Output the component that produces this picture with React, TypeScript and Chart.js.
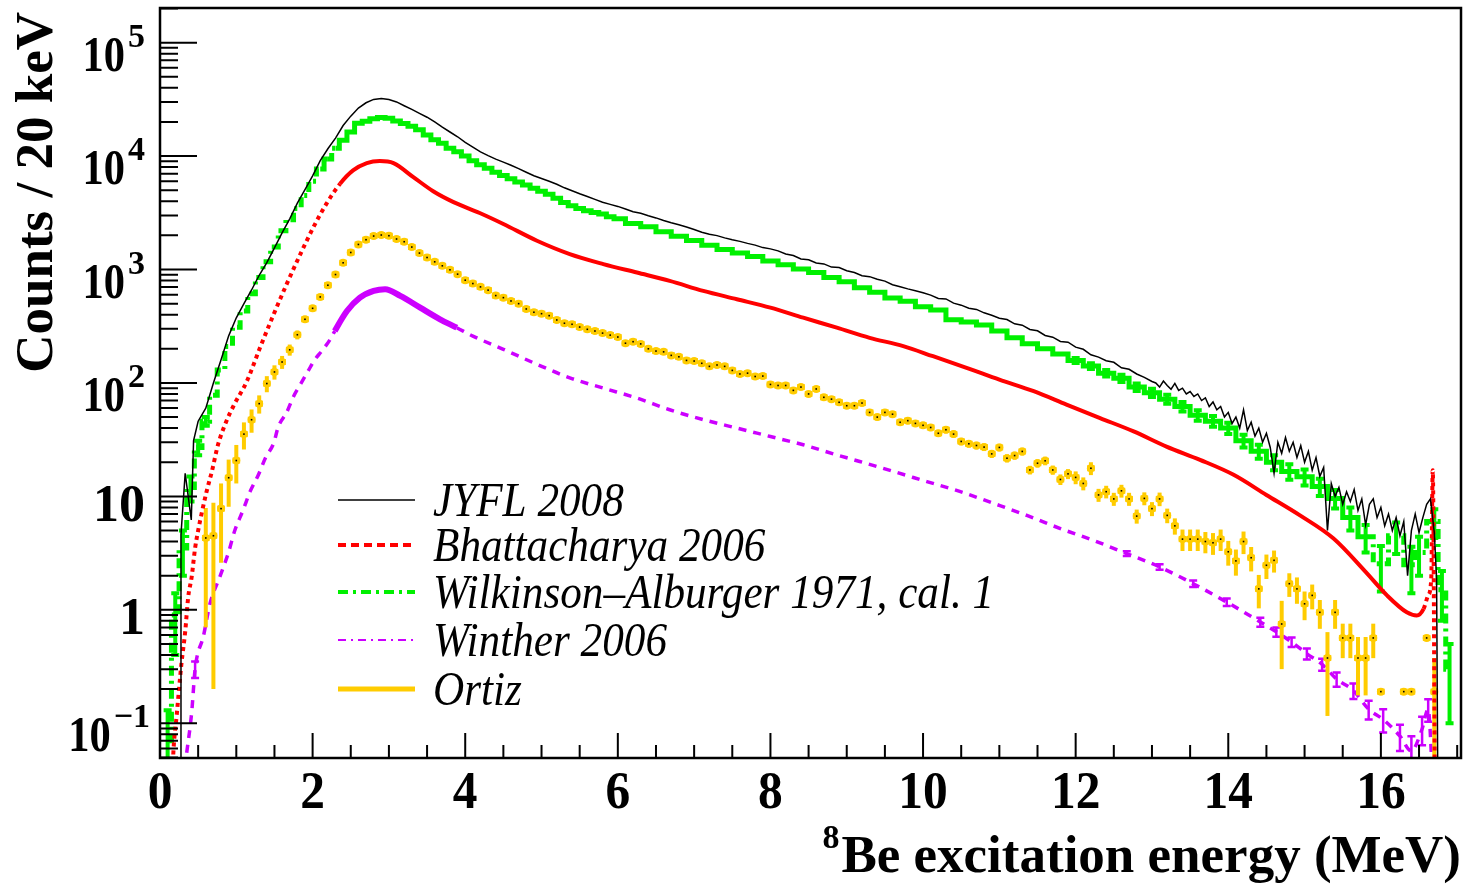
import React, { useEffect, useRef } from "react";
import { Chart, registerables } from "chart.js";

Chart.register(...registerables);

const SERIF = '"Liberation Serif", "Times New Roman", Times, serif';

// ---------------- axes ----------------
const X_RANGE = [0, 17.05];
const Y_RANGE = [0.0494, 2.02e5];
const X_TICK_LABELS = [0, 2, 4, 6, 8, 10, 12, 14, 16];
const Y_DECADES = [-1, 0, 1, 2, 3, 4, 5];
const Y_TITLE = "Counts / 20 keV";
const X_TITLE = "Be excitation energy (MeV)";
const X_TITLE_SUP = "8";

// ---------------- series labels ----------------
const LABELS = [
  "JYFL 2008",
  "Bhattacharya 2006",
  "Wilkinson\u2013Alburger 1971, cal. 1",
  "Winther 2006",
  "Ortiz",
];

const bins = (start: number, end: number, step: number) => {
  const out: number[] = [];
  const n = Math.round((end - start) / step);
  for (let i = 0; i <= n; i++) out.push(Math.round((start + i * step) * 1000) / 1000);
  return out;
};

// ---------------- JYFL 2008 ----------------
const JYFL_LOW_E = [0.265, 0.275, 0.33, 0.41, 0.44, 0.5];
const JYFL_LOW = [0.01, 4.6, 16, 6.2, 31, 46];
const JYFL_MID_E = bins(0.6, 13.0, 0.1);
const JYFL_MID = [
  60, 100, 160, 260, 375, 500, 660, 890, 1150, 1550,
  2100, 2800, 3850, 5050, 6700, 9100, 11600, 14400, 18600, 22500,
  26500, 29500, 31600, 32200, 31500, 30000, 27800, 25800, 23800, 22000,
  20000, 18000, 16300, 14800, 13200, 12000, 10900, 10100, 9400, 8850,
  8300, 7750, 7200, 6700, 6350, 6000, 5650, 5250, 4950, 4650,
  4400, 4150, 3920, 3750, 3600, 3420, 3230, 3130, 2980, 2850,
  2700, 2580, 2480, 2370, 2250, 2130, 2050, 1990, 1900, 1830,
  1770, 1700, 1640, 1560, 1520, 1460, 1370, 1330, 1240, 1220,
  1140, 1120, 1050, 1040, 975, 940, 880, 865, 820, 790,
  735, 705, 675, 650, 625, 595, 555, 550, 505, 485,
  455, 445, 415, 395, 372, 362, 332, 323, 296, 288,
  262, 253, 232, 229, 207, 198, 177, 169, 157, 152,
  136, 132, 120, 112, 103,
];
const JYFL_HIGH_E = bins(13.05, 16.7, 0.05);
const JYFL_HIGH = [
  100, 92, 104, 95, 88, 99, 86, 90, 80, 84,
  76, 80, 70, 74, 62, 68, 58, 62, 50, 55,
  44, 50, 40, 58, 38, 45, 34, 40, 30, 36,
  27, 16, 30, 24, 33, 25, 30, 22, 28, 20,
  25, 17, 22, 15, 18, 5, 13, 10, 12, 8.5,
  11, 9, 11.5, 7.5, 9.5, 5.6, 8.5, 9.5, 6.5, 8,
  5.5, 7, 5, 6.5, 4.5, 6, 2.0, 5, 7, 4.8,
  6.5, 8.5, 9.5, 4.8,
];
const JYFL_TAIL_E = [16.73, 16.75];
const JYFL_TAIL = [1.9, 0.01];

// ---------------- Bhattacharya 2006 ----------------
const BHAT_E = [
  0.15, 0.175, 0.22, 0.28, 0.33, 0.37, 0.415, 0.46, 0.5, 0.55,
  0.61, 0.68, 0.76, 0.87, 0.97, 1.14, 1.31, 1.49, 1.66, 1.84,
  2.01, 2.18, 2.36, 2.53, 2.71, 2.88, 3.06, 3.32, 3.58, 3.84,
  4.19, 4.5, 4.94, 5.37, 5.81, 6.25, 6.68, 7.12, 7.56, 8.0,
  8.43, 8.87, 9.3, 9.74, 10.13, 10.57, 11.0, 11.45, 11.88, 12.32,
  12.76, 13.19, 13.63, 14.07, 14.5, 14.94, 15.38, 15.8, 16.08, 16.34,
  16.47, 16.56, 16.62, 16.66, 16.68, 16.71,
];
const BHAT = [
  0.02, 0.055, 0.12, 0.33, 0.64, 1.3, 1.95, 3.5, 5.0, 7.3,
  11, 16.6, 28.5, 46, 64, 104, 204, 403, 743, 1368,
  2355, 3790, 5700, 7470, 8670, 9040, 8670, 6520, 4900, 3950,
  3150, 2520, 1794, 1368, 1117, 940, 794, 648, 547, 461,
  376, 307, 250, 211, 172, 136, 107, 84.5, 64.4, 49,
  37.4, 27.5, 21, 15.5, 10.3, 6.8, 4.25, 2.16, 1.34, 0.95,
  0.89, 1.02, 1.34, 1.88, 17, 0.01,
];

// ---------------- Wilkinson-Alburger 1971 ----------------
const WILK_LOW_E = bins(0.1, 6.0, 0.1);
const WILK_LOW = [
  0.07, 0.9, 3.5, 12, 27, 46, 78, 130, 210, 310,
  430, 610, 850, 1170, 1580, 2200, 2750, 3450, 4500, 6000,
  7700, 9400, 11700, 13800, 16300, 19500, 20300, 21300, 21900, 21500,
  20400, 19400, 18300, 17100, 15300, 13900, 13000, 11700, 10900, 10000,
  9100, 8400, 7800, 7200, 6750, 6300, 5900, 5550, 5200, 4900,
  4600, 4250, 3900, 3650, 3450, 3300, 3180, 3090, 2920, 2800,
];
const WILK_LOW_ERR = [
  0.06, 0.5, 1.5, 3, 4, 4, 0, 0, 0, 0,
  0, 0, 0, 0, 0, 0, 0, 0, 0, 0,
  0, 0, 0, 0, 0, 0, 0, 0, 0, 0,
  0, 0, 0, 0, 0, 0, 0, 0, 0, 0,
  0, 0, 0, 0, 0, 0, 0, 0, 0, 0,
  0, 0, 0, 0, 0, 0, 0, 0, 0, 0,
];
const WILK_HIGH_E = bins(6.2, 16.4, 0.2);
const WILK_HIGH = [
  2550, 2380, 2150, 1960, 1800, 1640, 1500, 1400, 1300, 1190,
  1100, 1010, 940, 850, 780, 690, 630, 560, 525, 470,
  440, 360, 345, 325, 287, 250, 222, 200, 180, 158,
  141, 122, 110, 92, 82, 72, 62, 52, 46, 40,
  31, 25, 20, 16.6, 14.9, 12.2, 9.6, 6.5, 4.4, 2.55,
  4.5, 2.5,
];
const WILK_HIGH_ERR = [
  0, 0, 0, 0, 0, 0, 0, 0, 0, 0,
  0, 0, 0, 0, 0, 0, 0, 0, 0, 0,
  0, 0, 0, 0, 0, 0, 0, 0, 0, 8,
  8, 8, 8, 7, 7, 6.5, 6, 5.5, 5, 4.5,
  4, 3.5, 3, 2.6, 2.4, 2.1, 1.8, 1.5, 1.2, 1.1,
  1.4, 1.1,
];
const WILK_TAIL_E = [16.5, 16.7, 16.8, 16.9];
const WILK_TAIL = [3.2, 6.0, 1.5, 0.3];
const WILK_TAIL_ERR = [1.2, 1.7, 0.7, 0.2];

// ---------------- Winther 2006 ----------------
const WINT_E = [
  0.3, 0.35, 0.415, 0.46, 0.57, 0.655, 0.79, 0.9, 0.98, 1.09,
  1.18, 1.29, 1.38, 1.49, 1.55, 1.66, 1.75, 1.84, 1.94, 2.03,
  2.12, 2.23, 2.29, 2.45, 2.62, 2.8, 2.95, 3.15, 3.41, 3.67,
  3.89, 4.1, 4.5, 4.94, 5.37, 5.81, 6.25, 6.68, 7.12, 7.56,
  8.0, 8.43, 8.87, 9.17, 9.61, 10.05, 10.49, 10.92, 11.36, 11.8,
  12.23, 12.67, 13.1, 13.54, 13.98, 14.42, 14.63, 14.83, 15.03, 15.23,
  15.42, 15.64, 15.84, 16.03, 16.25, 16.4, 16.54, 16.62, 16.68,
];
const WINT = [
  0.03, 0.055, 0.124, 0.3, 0.59, 1.13, 2.0, 3.24, 5.0, 7.6,
  11, 15.5, 21.7, 29.5, 41, 55, 76, 97, 127, 161,
  191, 242, 287, 431, 565, 648, 671, 585, 461, 364,
  307, 259, 198, 146, 111, 90, 73.6, 58, 47.5, 40,
  33.7, 28.5, 23.2, 20.3, 16.6, 13.5, 11, 8.7, 6.8, 5.2,
  4.1, 3.13, 2.39, 1.7, 1.17, 0.78, 0.64, 0.52, 0.41, 0.33,
  0.245, 0.194, 0.133, 0.108, 0.077, 0.057, 0.089, 0.133, 0.03,
];
const WINT_ERR = [
  0, 0, 0, 0.05, 0, 0, 0, 0, 0, 0,
  0, 0, 0, 0, 0, 0, 0, 0, 0, 0,
  0, 0, 0, 0, 0, 0, 0, 0, 0, 0,
  0, 0, 0, 0, 0, 0, 0, 0, 0, 0,
  0, 0, 0, 0, 0, 0, 0, 0, 0, 0,
  0, 0.15, 0.13, 0.11, 0.09, 0.07, 0.06, 0.05, 0.045, 0.04,
  0.035, 0.03, 0.025, 0.025, 0.02, 0.02, 0.025, 0.03, 0,
];

// ---------------- Ortiz ----------------
const ORTIZ_E = bins(0.6, 16.7, 0.1);
const ORTIZ = [
  4.3, 4.5, 7.8, 14.6, 20.7, 35.4, 47.4, 65.7, 98.8, 125,
  153, 196, 266, 364, 455, 573, 727, 903, 1146, 1413,
  1663, 1831, 1973, 2014, 1986, 1858, 1758, 1578, 1396, 1276,
  1169, 1078, 994, 910, 805, 752, 703, 658, 589, 565,
  528, 500, 449, 420, 408, 392, 359, 336, 329, 311,
  297, 287, 275, 264, 254, 224, 231, 221, 200, 191,
  188, 175, 170, 158, 156, 149, 140, 144, 140, 129,
  120, 122, 114, 115, 97, 95, 95, 86, 92, 80,
  88.5, 74.7, 72, 67.5, 63, 63, 66.5, 55, 50, 55,
  53, 45, 46.5, 44, 42.3, 40.5, 36, 38.7, 35.4, 30.5,
  29.1, 28.1, 27.2, 23.7, 27, 21.7, 22.9, 24.9, 17.1, 19.6,
  20.6, 17.1, 14.1, 15.8, 14.7, 13, 17.7, 10.3, 11, 9.5,
  11.2, 9.5, 6.7, 9.6, 7.8, 9.5, 6.8, 5.5, 4.2, 4.2,
  4.2, 4.0, 3.9, 4.2, 3.25, 2.7, 4.0, 2.88, 1.53, 2.47,
  2.73, 0.75, 1.7, 1.53, 1.13, 1.34, 0.95, 0.376, 0.95, 0.565,
  0.565, 0.376, 0.376, 0.565, 0.19, null, null, 0.19, 0.19, null,
  0.565, 0.19,
];
const ORTIZ_ERR = [
  3.6, 4.3, 5.2, 6.5, 7.7, 9.5, 11, 12, 16, 18,
  20, 22, 24, 26, 28, 30, 32, 34, 36, 38,
  40, 42, 44, 45, 45, 43, 42, 40, 37, 36,
  34, 33, 32, 30, 28, 27, 26, 25, 23, 22,
  21, 20, 19, 18, 18, 17, 16, 15, 15, 14,
  14, 13, 13, 13, 12, 11, 11, 11, 10, 10,
  10, 9, 9, 8.5, 8.5, 8, 8, 8, 8, 7.5,
  7, 7, 6.5, 6.5, 6, 6, 6, 5.5, 5.5, 5,
  5.3, 4.7, 4.5, 4.3, 4, 4, 4.1, 3.6, 3.3, 3.6,
  3.5, 3.1, 3.2, 3.1, 3, 2.9, 2.6, 2.8, 2.6, 2.3,
  2.2, 2.2, 2.1, 1.9, 2.1, 1.8, 1.9, 2, 1.5, 1.7,
  1.8, 1.6, 1.5, 1.6, 1.9, 1.7, 2.3, 1.35, 1.4, 1.25,
  1.45, 1.25, 0.95, 1.25, 1.1, 1.3, 1.0, 0.9, 0.9, 0.9,
  0.9, 0.85, 0.85, 0.9, 0.8, 0.7, 0.9, 0.7, 0.5, 0.6,
  0.6, 0.45, 0.4, 0.4, 0.32, 0.33, 0.27, 0.26, 0.27, 0.19,
  0.19, 0.2, 0.2, 0.19, 0, 0, 0, 0, 0, 0,
  0, 0.186,
];

// ---------------- colours ----------------
const C_JYFL = "#000000";
const C_BHAT = "#ff0000";
const C_WILK = "#00f000";
const C_WINT = "#cc00ff";
const C_ORTIZ = "#ffcc00";

const pts = (xs: number[], ys: (number | null)[]) =>
  xs.map((x, i) => ({ x, y: ys[i] === undefined ? null : ys[i] }));

function drawText(
  ctx: CanvasRenderingContext2D,
  s: string,
  x: number,
  y: number,
  font: string,
  align: "left" | "right" | "center",
  sx = 1
) {
  ctx.font = font;
  const w = ctx.measureText(s).width * sx;
  const left = align === "right" ? x - w : align === "center" ? x - w / 2 : x;
  ctx.save();
  ctx.translate(left, y);
  ctx.scale(sx, 1);
  ctx.textAlign = "left";
  ctx.textBaseline = "alphabetic";
  ctx.fillText(s, 0, 0);
  ctx.restore();
  return w;
}

const steep = (c: any) => Math.abs(c.p1.y - c.p0.y) > 1.3 * Math.abs(c.p1.x - c.p0.x);

// draws bin-width bars and vertical error bars for histogram-like datasets
const errorBars = {
  id: "errorBars",
  beforeDatasetDraw(chart: any, args: any) {
    const ds = chart.data.datasets[args.index];
    if (!ds.errs) return;
    const { ctx, chartArea: a } = chart;
    const xs = chart.scales.x;
    const ys = chart.scales.y;
    ctx.save();
    ctx.beginPath();
    ctx.rect(a.left, a.top, a.right - a.left, a.bottom - a.top);
    ctx.clip();
    ctx.strokeStyle = ds.errColor;
    ctx.lineCap = "butt";
    ds.data.forEach((p: any, i: number) => {
      if (p.y == null) return;
      const px = xs.getPixelForValue(p.x);
      const py = ys.getPixelForValue(p.y);
      if (ds.errHalfBin) {
        ctx.lineWidth = ds.errHWidth;
        ctx.beginPath();
        ctx.moveTo(xs.getPixelForValue(p.x - ds.errHalfBin), py);
        ctx.lineTo(xs.getPixelForValue(p.x + ds.errHalfBin), py);
        ctx.stroke();
      }
      const e = ds.errs[i];
      if (!e) return;
      const hi = ys.getPixelForValue(p.y + e);
      const lo = p.y - e > 0 ? ys.getPixelForValue(p.y - e) : a.bottom + 20;
      ctx.lineWidth = ds.errWidth;
      ctx.beginPath();
      ctx.moveTo(px, hi);
      ctx.lineTo(px, lo);
      if (ds.errCap) {
        ctx.moveTo(px - ds.errCap, hi);
        ctx.lineTo(px + ds.errCap, hi);
        ctx.moveTo(px - ds.errCap, lo);
        ctx.lineTo(px + ds.errCap, lo);
      }
      ctx.stroke();
    });
    ctx.restore();
  },
  afterDatasetDraw(chart: any, args: any) {
    const ds = chart.data.datasets[args.index];
    if (!ds.centreDots) return;
    const { ctx, chartArea: a } = chart;
    ctx.save();
    ctx.fillStyle = "#000";
    args.meta.data.forEach((el: any, i: number) => {
      if (ds.data[i].y == null) return;
      if (el.x < a.left || el.x > a.right || el.y < a.top || el.y > a.bottom) return;
      ctx.fillRect(el.x - 0.8, el.y - 0.8, 1.6, 1.6);
    });
    ctx.restore();
  },
};

const rootFrame = {
  id: "rootFrame",
  afterDatasetsDraw(chart: any) {
    const { ctx, chartArea: a } = chart;
    const xs = chart.scales.x;
    const ys = chart.scales.y;
    ctx.save();
    ctx.strokeStyle = "#000";
    ctx.lineWidth = 2;
    ctx.beginPath();
    for (let k = 0; k * 0.5 <= X_RANGE[1] + 1e-9; k++) {
      const v = k * 0.5;
      const px = xs.getPixelForValue(v);
      const len = k % 4 === 0 ? 25 : 13;
      ctx.moveTo(px, a.bottom);
      ctx.lineTo(px, a.bottom - len);
    }
    for (let d = -2; d <= 5; d++) {
      for (let m = 1; m <= 9; m++) {
        const v = m * Math.pow(10, d);
        if (v < Y_RANGE[0] || v > Y_RANGE[1]) continue;
        const py = ys.getPixelForValue(v);
        const len = m === 1 ? 37 : 18;
        ctx.moveTo(a.left, py);
        ctx.lineTo(a.left + len, py);
      }
    }
    ctx.stroke();
    ctx.lineWidth = 2.5;
    ctx.strokeRect(a.left, a.top, a.right - a.left, a.bottom - a.top);

    ctx.fillStyle = "#000";
    X_TICK_LABELS.forEach((v) => {
      drawText(ctx, String(v), xs.getPixelForValue(v), 808, `bold 52px ${SERIF}`, "center", 0.95);
    });
    const right = 145;
    Y_DECADES.forEach((d) => {
      const py = ys.getPixelForValue(Math.pow(10, d));
      if (d === 0) {
        drawText(ctx, "1", right, py + 24, `bold 52px ${SERIF}`, "right", 1);
      } else if (d === 1) {
        drawText(ctx, "10", right, py + 25, `bold 52px ${SERIF}`, "right", 1);
      } else {
        const sup = d < 0 ? "\u2212" + String(-d) : String(d);
        const r = d < 0 ? right + 5 : right;
        const w = drawText(ctx, sup, r, py + 4, `bold 34px ${SERIF}`, "right", 1);
        drawText(ctx, "10", r - w - 3, py + 28, `bold 50px ${SERIF}`, "right", 0.85);
      }
    });
    const tw = drawText(ctx, X_TITLE, a.right, 872, `bold 53px ${SERIF}`, "right", 1);
    drawText(ctx, X_TITLE_SUP, a.right - tw - 2, 848, `bold 34px ${SERIF}`, "right", 1);
    ctx.save();
    ctx.translate(52, 12);
    ctx.rotate(-Math.PI / 2);
    ctx.font = `bold 53px ${SERIF}`;
    ctx.textAlign = "right";
    ctx.textBaseline = "alphabetic";
    ctx.fillText(Y_TITLE, 0, 0);
    ctx.restore();

    const rows = [500, 545, 592, 640, 689];
    const styles = [
      { c: C_JYFL, w: 1.5, dash: [] as number[] },
      { c: C_BHAT, w: 4, dash: [8, 5] },
      { c: C_WILK, w: 4, dash: [10, 5, 3, 5] },
      { c: C_WINT, w: 2, dash: [8, 5, 2, 5] },
      { c: C_ORTIZ, w: 5, dash: [] as number[] },
    ];
    rows.forEach((ry, i) => {
      const s = styles[i];
      ctx.save();
      ctx.strokeStyle = s.c;
      ctx.lineWidth = s.w;
      ctx.setLineDash(s.dash);
      ctx.beginPath();
      ctx.moveTo(338, ry);
      ctx.lineTo(415, ry);
      ctx.stroke();
      ctx.restore();
      ctx.fillStyle = "#000";
      drawText(ctx, LABELS[i], 433, ry + 16, `italic 48px ${SERIF}`, "left", 0.9);
    });
    ctx.restore();
  },
};

export default function App() {
  const ref = useRef<HTMLCanvasElement | null>(null);
  useEffect(() => {
    document.body.style.margin = "0";
    document.body.style.background = "#fff";
    const canvas = ref.current;
    if (!canvas) return;

    const chart = new Chart(canvas, {
      type: "line",
      data: {
        datasets: [
          {
            label: LABELS[0],
            data: pts(
              [...JYFL_LOW_E, ...JYFL_MID_E, ...JYFL_HIGH_E, ...JYFL_TAIL_E],
              [...JYFL_LOW, ...JYFL_MID, ...JYFL_HIGH, ...JYFL_TAIL]
            ),
            borderColor: C_JYFL,
            borderWidth: 1.5,
            pointRadius: 0,
            tension: 0,
          },
          {
            label: LABELS[1],
            data: pts(BHAT_E, BHAT),
            borderColor: C_BHAT,
            borderWidth: 4,
            pointRadius: 0,
            cubicInterpolationMode: "monotone",
            segment: {
              borderDash: (c: any) => (steep(c) ? [4, 4] : undefined),
            },
          },
          {
            label: LABELS[4],
            data: pts(ORTIZ_E, ORTIZ),
            showLine: false,
            pointStyle: "circle",
            pointRadius: 4,
            pointBackgroundColor: C_ORTIZ,
            pointBorderWidth: 0,
            errs: ORTIZ_ERR,
            errColor: C_ORTIZ,
            errWidth: 4,
            errHalfBin: 0.05,
            errHWidth: 6,
            errCap: 0,
            centreDots: true,
          } as any,
          {
            label: LABELS[2],
            data: pts(
              [...WILK_LOW_E, ...WILK_HIGH_E, ...WILK_TAIL_E],
              [...WILK_LOW, ...WILK_HIGH, ...WILK_TAIL]
            ),
            stepped: "middle",
            borderColor: C_WILK,
            borderWidth: 5,
            borderCapStyle: "butt",
            pointRadius: 0,
            segment: {
              borderDash: (c: any) => (steep(c) ? [10, 5, 3, 5] : undefined),
            },
            errs: [...WILK_LOW_ERR, ...WILK_HIGH_ERR, ...WILK_TAIL_ERR],
            errColor: C_WILK,
            errWidth: 4,
            errCap: 4,
          } as any,
          {
            label: LABELS[3],
            data: pts(WINT_E, WINT),
            borderColor: C_WINT,
            borderWidth: 3.5,
            borderDash: [8, 7],
            pointRadius: 0,
            cubicInterpolationMode: "monotone",
            segment: {
              borderWidth: (c: any) =>
                c.p0.parsed.x >= 2.28 && c.p1.parsed.x <= 3.9 ? 6 : undefined,
              borderDash: (c: any) =>
                c.p0.parsed.x >= 2.28 && c.p1.parsed.x <= 3.9 ? [] : undefined,
            },
            errs: WINT_ERR,
            errColor: C_WINT,
            errWidth: 2.5,
            errCap: 4,
          } as any,
        ],
      },
      options: {
        animation: false,
        responsive: false,
        devicePixelRatio: 1,
        events: [],
        layout: { padding: { left: 160, top: 8, right: 10, bottom: 126 } },
        scales: {
          x: { type: "linear", min: X_RANGE[0], max: X_RANGE[1], display: false },
          y: { type: "logarithmic", min: Y_RANGE[0], max: Y_RANGE[1], display: false },
        },
        plugins: { legend: { display: false }, tooltip: { enabled: false } },
      },
      plugins: [errorBars, rootFrame],
    });
    return () => chart.destroy();
  }, []);
  return <canvas ref={ref} width={1471} height={884} style={{ display: "block" }} />;
}
